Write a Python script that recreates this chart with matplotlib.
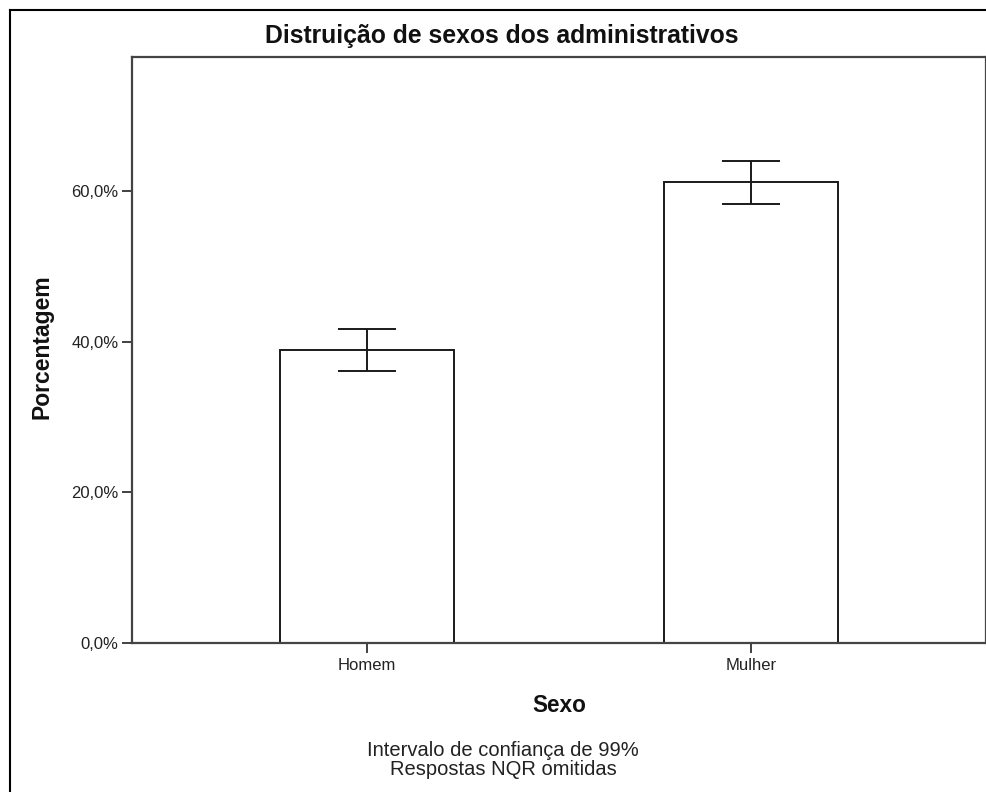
import matplotlib
matplotlib.use("Agg")
import matplotlib.pyplot as plt
from matplotlib.lines import Line2D
from matplotlib.ticker import FuncFormatter

categories = ["Homem", "Mulher"]
percentages = [38.9, 61.2]
ci_low = [36.1, 58.3]
ci_high = [41.7, 64.0]
y_ticks = [0, 20, 40, 60]

title = "Distruição de sexos dos administrativos"
x_label = "Sexo"
y_label = "Porcentagem"
footnote = "Intervalo de confiança de 99%\nRespostas NQR omitidas"

plt.rcParams["font.family"] = ["Liberation Sans", "DejaVu Sans"]

W, H = 987, 792
fig = plt.figure(figsize=(W / 100, H / 100), dpi=100)
fig.patch.set_facecolor("white")

ax_l, ax_r, ax_t, ax_b = 132, 986, 57, 642.7
ax = fig.add_axes([ax_l / W, (H - ax_b) / H, (ax_r - ax_l) / W, (ax_b - ax_t) / H])

x = list(range(len(categories)))
ax.bar(x, percentages, width=0.4515, color="white", edgecolor="#1a1a1a",
       linewidth=1.4, zorder=2)
yerr = [[p - lo for p, lo in zip(percentages, ci_low)],
        [hi - p for p, hi in zip(percentages, ci_high)]]
ax.errorbar(x, percentages, yerr=yerr, fmt="none", ecolor="#1a1a1a",
            elinewidth=1.4, capsize=21.2, capthick=1.4, zorder=3)

ax.set_xlim(-0.611, 1.611)
ax.set_ylim(0, 77.8)
ax.set_xticks(x)
ax.set_xticklabels(categories)
ax.set_yticks(y_ticks)
ax.yaxis.set_major_formatter(FuncFormatter(lambda v, p: f"{v:.1f}%".replace(".", ",")))
ax.tick_params(axis="both", direction="out", length=7.2, width=1.3, color="#333333",
               labelsize=12, labelcolor="#222222")
ax.tick_params(axis="y", pad=2.5)
ax.tick_params(axis="x", pad=4)

for s in ax.spines.values():
    s.set_color("#444444")
    s.set_linewidth(1.6)

ax.set_xlabel(x_label, fontsize=16.3, fontweight="bold", color="#111111", labelpad=15)
ax.set_ylabel(y_label, fontsize=16.5, fontweight="bold", color="#111111")
ax.yaxis.set_label_coords(-0.0925, 0.505)

fig.text(501.5 / W, 1 - 35.5 / H, title, ha="center", va="center",
         fontsize=17.8, fontweight="bold", color="#111111")
fig.text(503.3 / W, 1 - 760 / H, footnote, ha="center", va="center",
         fontsize=14.5, color="#222222", linespacing=0.95)

# outer frame (left and top edges)
fig.add_artist(Line2D([9.5 / W, 9.5 / W], [0, 1 - 9.5 / H], transform=fig.transFigure,
                      color="black", linewidth=1.5))
fig.add_artist(Line2D([9.5 / W, 1], [1 - 9.5 / H, 1 - 9.5 / H], transform=fig.transFigure,
                      color="black", linewidth=1.5))

fig.savefig("out.png", dpi=100, facecolor="white")
